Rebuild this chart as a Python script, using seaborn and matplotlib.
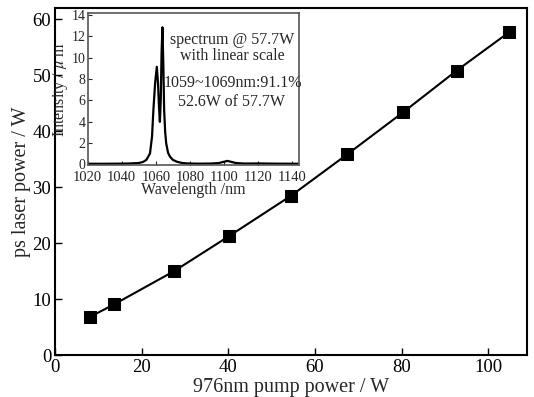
import seaborn as sns
import pandas as pd
import matplotlib
matplotlib.use("Agg")
import matplotlib.pyplot as plt

# potencia de bombeio x potencia do laser ps
pump_power = [8.1, 13.6, 27.5, 40.2, 54.5, 67.5, 80.4, 92.7, 104.9]
laser_power = [6.9, 9.1, 15.05, 21.3, 28.5, 35.9, 43.4, 50.8, 57.7]

# espectro @ 57.7W
wavelength = [1020, 1030, 1040, 1045, 1050, 1052.5, 1054.5, 1056.6, 1057.8, 1058.6, 1059.6,
              1060.6, 1061.3, 1061.9, 1062.4, 1062.9, 1063.4, 1063.9, 1064.4, 1064.9,
              1065.5, 1066.1, 1067.2, 1068.4, 1070, 1072.4, 1075, 1078.2, 1085, 1092,
              1097, 1100, 1102, 1104, 1107, 1112, 1120, 1130, 1144]
intensity = [0.03, 0.03, 0.04, 0.06, 0.1, 0.2, 0.4, 1.0, 2.6, 5.1, 7.6,
             9.14, 7.6, 5.3, 3.97, 6.0, 10.5, 12.85, 9.5, 5.1,
             3.0, 1.95, 1.05, 0.68, 0.4, 0.22, 0.12, 0.06, 0.04, 0.05,
             0.1, 0.22, 0.3, 0.22, 0.1, 0.05, 0.06, 0.04, 0.03]

main_df = pd.DataFrame({"pump": pump_power, "laser": laser_power})
spec_df = pd.DataFrame({"wl": wavelength, "inten": intensity})

sns.set_theme(style="ticks")
plt.rcParams["font.family"] = ["Liberation Serif", "DejaVu Serif"]
plt.rcParams["xtick.direction"] = "in"
plt.rcParams["ytick.direction"] = "in"
plt.rcParams["mathtext.fontset"] = "stix"

fig = plt.figure(figsize=(5.34, 3.97), dpi=100)
ax = fig.add_axes([0.1036, 0.105, 0.8834, 0.875])
sns.lineplot(data=main_df, x="pump", y="laser", ax=ax, color="black", lw=1.5,
             marker="s", markersize=8, markeredgecolor="black", markerfacecolor="black")
ax.set_xlim(0, 109)
ax.set_ylim(0, 62)
ax.set_xticks([0, 20, 40, 60, 80, 100])
ax.set_yticks([0, 10, 20, 30, 40, 50, 60])
ax.tick_params(labelsize=13.5, length=5, width=1, colors="black", pad=3)
ax.set_xlabel("976nm pump power / W", fontsize=14.5, labelpad=1)
ax.set_ylabel("ps laser power / W", fontsize=14.5, labelpad=1)
for s in ax.spines.values():
    s.set_linewidth(1.5)
    s.set_color("black")

# inset com o espectro
axin = fig.add_axes([0.164, 0.584, 0.396, 0.382])
sns.lineplot(data=spec_df, x="wl", y="inten", ax=axin, color="black", lw=1.6)
axin.set_xlim(1020, 1144)
axin.set_ylim(-0.1, 14.15)
axin.set_xticks([1020, 1040, 1060, 1080, 1100, 1120, 1140])
axin.set_yticks([0, 2, 4, 6, 8, 10, 12, 14])
axin.tick_params(axis="x", labelsize=10.5, length=3, width=0.8, pad=4)
axin.tick_params(axis="y", labelsize=10, length=3, width=0.8, pad=1.5)
axin.set_xlabel("Wavelength /nm", fontsize=11.5, labelpad=-1)
axin.set_ylabel("Intensity / $\\mu$ m", fontsize=11.5, labelpad=1)
for s in axin.spines.values():
    s.set_linewidth(1.2)
    s.set_color("#555555")

axin.text(1104.6, 11.65, "spectrum @ 57.7W", fontsize=11.5, ha="center", va="center")
axin.text(1104.6, 10.2, "with linear scale", fontsize=11.5, ha="center", va="center")
axin.text(1105.5, 7.58, "1059~1069nm:91.1%", fontsize=11.5, ha="center", va="center")
axin.text(1104.6, 5.86, "52.6W of 57.7W", fontsize=11.5, ha="center", va="center")

fig.savefig("out.png", dpi=100)
